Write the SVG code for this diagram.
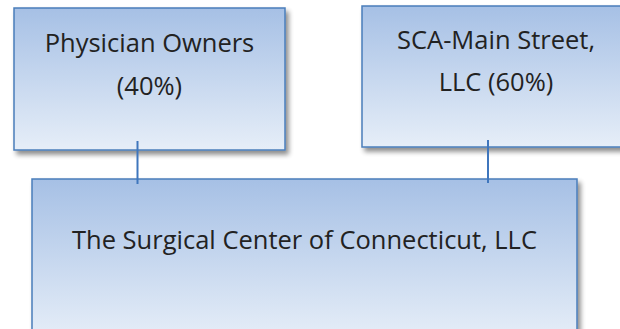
<svg xmlns="http://www.w3.org/2000/svg" width="620" height="329" viewBox="0 0 620 329">
  <defs>
    <linearGradient id="boxFill" x1="0" y1="0" x2="0" y2="1">
      <stop offset="0" stop-color="#a6c0e5"/>
      <stop offset="1" stop-color="#e6eef8"/>
    </linearGradient>
    <filter id="shadow" x="-10%" y="-10%" width="125%" height="130%">
      <feGaussianBlur in="SourceAlpha" stdDeviation="2.5"/>
      <feOffset dx="3" dy="4" result="b"/>
      <feComponentTransfer><feFuncA type="linear" slope="0.45"/></feComponentTransfer>
      <feMerge><feMergeNode/><feMergeNode in="SourceGraphic"/></feMerge>
    </filter>
    <style>
      .box { fill: url(#boxFill); stroke: #4a7ebb; stroke-width: 1.5; filter: url(#shadow); }
      .lbl { font-family: "Open Sans", "Noto Sans", "Liberation Sans", sans-serif; font-size: 25.5px; fill: #222222; text-anchor: middle; }
      .conn { stroke: #3f76bd; stroke-width: 2; fill: none; }
    </style>
  </defs>
  <rect width="620" height="329" fill="#ffffff"/>
  <g id="node-physician-owners">
    <rect class="box" x="14" y="8" width="271" height="142"/>
    <text class="lbl" x="149.5" y="52">Physician Owners</text>
    <text class="lbl" x="149.5" y="95">(40%)</text>
  </g>
  <g id="node-sca-main-street">
    <rect class="box" x="362" y="6" width="270" height="141"/>
    <text class="lbl" x="496" y="49">SCA-Main Street,</text>
    <text class="lbl" x="496" y="91">LLC (60%)</text>
  </g>
  <g id="node-surgical-center">
    <rect class="box" x="32" y="179" width="545" height="160"/>
    <text class="lbl" x="304.5" y="249">The Surgical Center of Connecticut, LLC</text>
  </g>
  <g id="connectors">
    <line class="conn" x1="137.5" y1="141" x2="137.5" y2="184"/>
    <line class="conn" x1="488" y1="140" x2="488" y2="183"/>
  </g>
</svg>
